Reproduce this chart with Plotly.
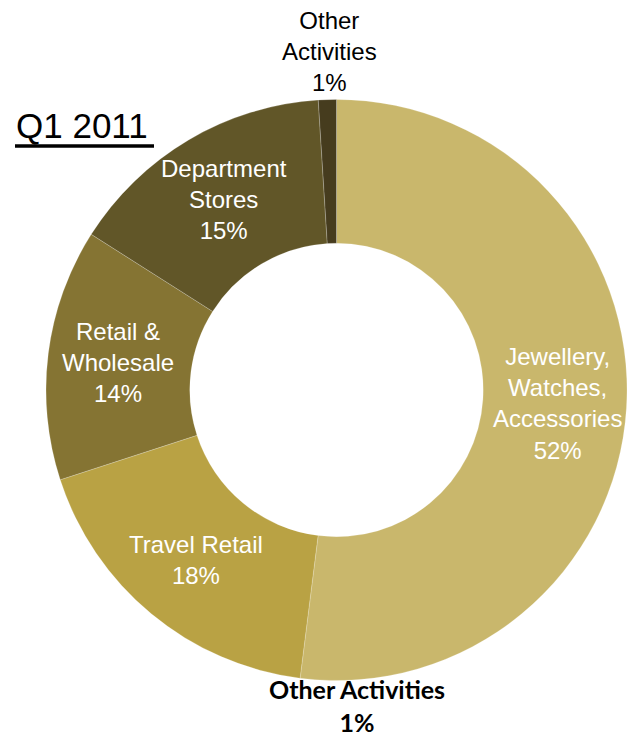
import math
import plotly.graph_objects as go

# Revenue split by activity, Q1 2011 (percent of total)
activities = ["Jewellery,<br>Watches,<br>Accessories", "Travel Retail",
              "Retail &<br>Wholesale", "Department<br>Stores", "Other<br>Activities"]
shares = [52, 18, 14, 15, 1]
colors = ["#C9B76C", "#B9A244", "#857433", "#615628", "#463C1E"]
period = "Q1 2011"

W, H = 627, 739
CX, CY, R = 337, 390, 291          # donut centre and radius in pixels
HOLE = 0.505
LABEL_FONT = "Liberation Sans, Arial, sans-serif"

def px(x):
    return x / W

def py(y):
    return 1 - y / H

fig = go.Figure(go.Pie(
    labels=[a.replace("<br>", " ") for a in activities],
    values=shares,
    sort=False,
    direction="clockwise",
    rotation=0,
    hole=HOLE,
    textinfo="none",
    hoverinfo="label+percent",
    marker=dict(colors=colors, line=dict(color="rgba(255,255,255,0.35)", width=0.6)),
    domain=dict(x=[px(CX - R), min(1.0, px(CX + R))], y=[py(CY + R), py(CY - R)]),
    showlegend=False,
))

annotations = []
total = sum(shares)
cum = 0.0
for i, (name, v) in enumerate(zip(activities, shares)):
    mid = (cum + v / 2) / total * 2 * math.pi
    cum += v
    if i == len(shares) - 1:
        # thin slice: label sits above the ring
        x = CX + (R + 4) * math.sin(mid)
        annotations.append(dict(
            x=px(x + 2), y=py(CY - R - 1), xref="paper", yref="paper",
            xanchor="center", yanchor="bottom", showarrow=False,
            text=f"{name}<br>{v}%", align="center",
            font=dict(family=LABEL_FONT, size=24, color="#000000"),
        ))
        continue
    rr = 0.76 * R
    x = CX + rr * math.sin(mid)
    y = CY - rr * math.cos(mid)
    annotations.append(dict(
        x=px(x), y=py(y), xref="paper", yref="paper",
        xanchor="center", yanchor="middle", showarrow=False,
        text=f"{name}<br>{v}%", align="center",
        font=dict(family=LABEL_FONT, size=24, color="#FFFFFF"),
    ))

# bold repeat of the smallest activity under the ring
annotations.append(dict(
    x=px(357), y=py(672), xref="paper", yref="paper",
    xanchor="center", yanchor="top", showarrow=False,
    text=f"<b>{activities[-1].replace('<br>', ' ')}</b><br><b>{shares[-1]}%</b>",
    align="center",
    font=dict(family="Lato, Open Sans, sans-serif", size=25, color="#000000"),
))

# period heading
annotations.append(dict(
    x=px(14), y=py(125), xref="paper", yref="paper",
    xanchor="left", yanchor="middle", showarrow=False,
    text=period,
    font=dict(family="Liberation Sans, Arial, sans-serif", size=35, color="#000000"),
))

fig.update_layout(
    width=W, height=H,
    margin=dict(l=0, r=0, t=0, b=0),
    paper_bgcolor="#FFFFFF",
    plot_bgcolor="#FFFFFF",
    annotations=annotations,
    shapes=[dict(  # heading underline
        type="line", xref="paper", yref="paper",
        x0=px(15), x1=px(154), y0=py(146), y1=py(146),
        line=dict(color="#000000", width=3.5),
    )],
)

fig.write_html("out.html")
